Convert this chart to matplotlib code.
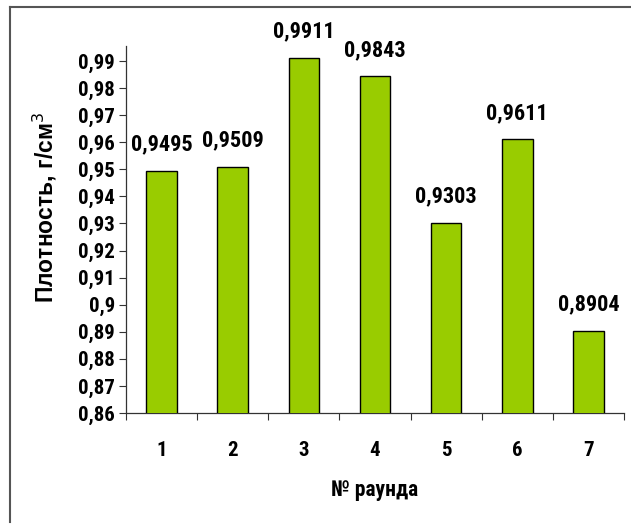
import matplotlib
matplotlib.use("Agg")
import matplotlib.pyplot as plt
from matplotlib import font_manager
from matplotlib.lines import Line2D

rounds = ["1", "2", "3", "4", "5", "6", "7"]
density = [0.9495, 0.9509, 0.9911, 0.9843, 0.9303, 0.9611, 0.8904]
yticks = [0.86, 0.87, 0.88, 0.89, 0.90, 0.91, 0.92, 0.93, 0.94, 0.95,
          0.96, 0.97, 0.98, 0.99]

# pick a narrow bold face for the numbers if one is installed
names = {f.name for f in font_manager.fontManager.ttflist}
narrow_stretch = "normal"
for cand in ("Liberation Sans Narrow", "Roboto Condensed", "Open Sans Condensed",
             "DejaVu Sans Condensed"):
    if cand in names:
        narrow_family = cand
        break
else:
    narrow_family = "DejaVu Sans"
    narrow_stretch = "condensed"
NARROW = dict(family=[narrow_family, "DejaVu Sans"], fontweight="bold",
              fontstretch=narrow_stretch)
wide = ["Liberation Sans", "DejaVu Sans"]

W, H = 631, 528
fig = plt.figure(figsize=(W / 100, H / 100), dpi=100)
ax = fig.add_axes([126 / W, 1 - 413 / H, (624 - 126) / W, (413 - 46) / H])

x = list(range(len(rounds)))
ax.bar(x, density, width=0.43, color="#99CC00", edgecolor="black",
       linewidth=1.0, zorder=3)

def fmt(v):
    s = f"{v:.4f}".rstrip("0").rstrip(".")
    return s.replace(".", ",")

for xi, v in zip(x, density):
    ax.annotate(fmt(v), (xi, v), xytext=(0, 11), textcoords="offset points",
                ha="center", va="bottom", fontsize=16, **NARROW)

ax.set_xlim(-0.5, len(rounds) - 0.5)
ax.set_ylim(0.86, 0.86 + (413 - 46) / 27.08 * 0.01)
ax.set_yticks(yticks)
ax.set_yticklabels([fmt(t) for t in yticks], fontsize=15, **NARROW)
ax.set_xticks(x)
ax.set_xticklabels(rounds, fontsize=15, **NARROW)
ax.set_xticks([i - 0.5 for i in range(len(rounds) + 1)], minor=True)
ax.tick_params(axis="x", which="major", length=0, pad=20)
ax.tick_params(axis="x", which="minor", length=5, width=0.8, color="#333333")
ax.tick_params(axis="y", length=5, width=0.8, color="#333333", pad=3)

for side in ("top", "right"):
    ax.spines[side].set_visible(False)
for side in ("left", "bottom"):
    ax.spines[side].set_color("#333333")
    ax.spines[side].set_linewidth(0.9)

ax.set_xlabel("№ раунда", fontsize=15.5, labelpad=14, **NARROW)
ax.set_ylabel("Плотность, г/см$^3$", fontsize=16.5, fontweight="bold",
              family=wide)
ax.yaxis.set_label_coords(-0.135, 0.56)

# outer frame of the chart area
fig.add_artist(Line2D([10 / W, 10 / W], [1 - 522 / H, 1 - 7 / H],
                      transform=fig.transFigure, color="#555555", lw=1.5))
fig.add_artist(Line2D([10 / W, 1.0], [1 - 7 / H, 1 - 7 / H],
                      transform=fig.transFigure, color="#555555", lw=1.5))

fig.savefig("out.png", dpi=100)
